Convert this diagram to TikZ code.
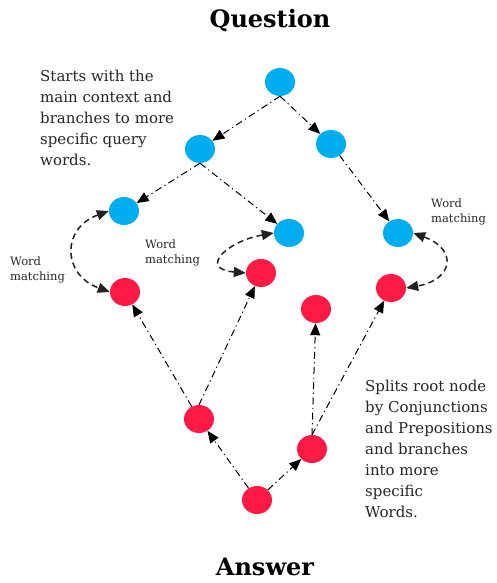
\documentclass[tikz,border=0pt]{standalone}
\usepackage{fontspec}
\setmainfont{DejaVu Serif}
\usetikzlibrary{shapes.geometric, arrows.meta, positioning}
\definecolor{qblue}{RGB}{0, 174, 239}
\definecolor{ared}{RGB}{255, 26, 69}
\definecolor{linkgray}{RGB}{34, 34, 34}

\tikzset{
  qnode/.style={ellipse, fill=qblue, minimum width=30pt, minimum height=28pt, inner sep=0pt},
  anode/.style={ellipse, fill=ared, minimum width=30pt, minimum height=28pt, inner sep=0pt},
  flow/.style={-{Triangle[length=12pt,width=10pt]}, line width=1pt, dash pattern=on 7pt off 3.5pt on 1.2pt off 3.5pt},
  wordlink/.style={{Triangle[length=12pt,width=10pt]}-{Triangle[length=12pt,width=10pt]}, line width=1.5pt, linkgray, dash pattern=on 6pt off 4pt},
  note/.style={font=\fontsize{15}{21}\selectfont, align=left, inner sep=0pt, anchor=north west, text=black!85},
  wmlabel/.style={font=\fontsize{11.5}{15}\selectfont, align=left, inner sep=0pt, anchor=north west, text=black!85},
  heading/.style={font=\fontsize{24}{28}\selectfont\bfseries}
}

\begin{document}
\begin{tikzpicture}[x=1pt, y=-1pt]
\useasboundingbox (0,0) rectangle (496,583);

% Titles
\node[heading] (question) at (270,21) {Question};
\node[heading] (answer) at (265,567) {Answer};

% Question tree (blue)
\node[qnode] (q0) at (280,82) {};
\node[qnode] (q1) at (200,149) {};
\node[qnode] (q2) at (331,144) {};
\node[qnode] (q3) at (124,211) {};
\node[qnode] (q4) at (289,233) {};
\node[qnode] (q5) at (398,233) {};

% Answer tree (red)
\node[anode] (a1) at (125,292) {};
\node[anode] (a2) at (261,273) {};
\node[anode] (a3) at (316,309) {};
\node[anode] (a4) at (391,288) {};
\node[anode] (a5) at (199,419) {};
\node[anode] (a6) at (312,449) {};
\node[anode] (a0) at (257,500) {};

% Question branches
\draw[flow] (q0.south) -- (q1);
\draw[flow] (q0.south) -- (q2);
\draw[flow] (q1.south) -- (q3);
\draw[flow] (q1.south) -- (q4);
\draw[flow] (q2) -- (q5);

% Answer branches
\draw[flow] (a0) -- (a5);
\draw[flow] (a0) -- (a6);
\draw[flow] (a5) -- (a1);
\draw[flow] (a5.north) -- (a2);
\draw[flow] (a6.north) -- (a3);
\draw[flow] (a6.north) -- (a4);

% Word matching links
\draw[wordlink] (q3.west) to[out=200, in=160, looseness=1.6] (a1.west);
\draw[wordlink] (q4.west) to[out=190, in=175, looseness=2.5] (a2.west);
\draw[wordlink] (q5.east) to[out=-20, in=10, looseness=2.2] (a4.east);

% Notes
\node[note] (topnote) at (40,70) {Starts with the\\main context and\\branches to more\\specific query\\words.};
\node[note] (botnote) at (365,380) {Splits root node\\by Conjunctions\\and Prepositions\\and branches\\into more\\specific\\Words.};
\node[wmlabel] (wm1) at (10,257) {Word\\matching};
\node[wmlabel] (wm2) at (145,240) {Word\\matching};
\node[wmlabel] (wm3) at (431,199) {Word\\matching};
\end{tikzpicture}
\end{document}
